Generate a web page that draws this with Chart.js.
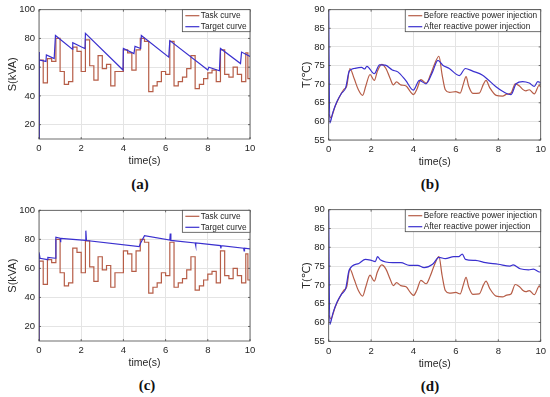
<!DOCTYPE html>
<html>
<head>
<meta charset="utf-8">
<script src="https://cdn.jsdelivr.net/npm/chart.js@4.4.0/dist/chart.umd.min.js"></script>
<style>
  body { margin: 0; background: #fff; width: 550px; height: 397px; position: relative; overflow: hidden; }
  canvas { position: absolute; }
  .cap { position: absolute; font: bold 15px "Liberation Serif", "Times New Roman", serif; color: #111; transform: translate(-50%, -50%); }
</style>
</head>
<body>
<canvas id="pa" width="275" height="175" style="left:0;top:0"></canvas>
<canvas id="pb" width="275" height="175" style="left:275px;top:0"></canvas>
<canvas id="pc" width="275" height="175" style="left:0;top:197px"></canvas>
<canvas id="pd" width="275" height="175" style="left:275px;top:197px"></canvas>
<div class="cap" style="left:140px;top:184px">(a)</div>
<div class="cap" style="left:430px;top:184px">(b)</div>
<div class="cap" style="left:147px;top:385px">(c)</div>
<div class="cap" style="left:430px;top:386px">(d)</div>
<script>
// tick labels
const timeTicks = [0, 2, 4, 6, 8, 10];
const sTicks = [20, 40, 60, 80, 100];
const tempTicks = [55, 60, 65, 70, 75, 80, 85, 90];

// task curve (same in a and c), step levels
const taskTime = [0, 0, 0.2, 0.4, 0.6, 0.8, 1.0, 1.2, 1.4, 1.6, 1.8, 2.0, 2.2, 2.4, 2.6, 2.8, 3.0, 3.2, 3.4, 3.6, 3.8,
  4.0, 4.2, 4.4, 4.6, 4.8, 5.0, 5.2, 5.4, 5.6, 5.8, 6.0, 6.2, 6.4, 6.6, 6.8, 7.0, 7.2, 7.4, 7.6, 7.8,
  8.0, 8.2, 8.4, 8.6, 8.8, 9.0, 9.2, 9.4, 9.6, 9.8, 9.9, 10];
const taskS = [10, 65, 49, 66, 64, 80, 57, 48, 50, 74, 71, 57, 79, 61, 51, 68, 59, 62, 47, 57, 57,
  72, 70, 58, 72, 80, 78, 43, 47, 50, 57, 55, 78, 47, 50, 53, 59, 68, 45, 48, 52,
  56, 58, 50, 72, 55, 53, 60, 55, 50, 70, 52, 52];

// target curve (a)
const targetATime = [0, 0, 0.03, 0.33, 0.35, 0.72, 0.78, 1.58, 1.6, 2.02, 2.18, 2.2, 3.98, 4.0, 4.5, 4.55, 4.82, 4.85,
  6.15, 6.2, 8.0, 8.05, 8.55, 8.6, 9.55, 9.6, 10];
const targetAS = [10, 70.5, 65, 64, 68.5, 66, 82, 72.5, 77, 74, 73, 83.5, 58, 73, 69.5, 74.5, 73, 82,
  67, 78.5, 58, 60, 57.5, 73, 62.5, 70.5, 67.5];

// target curve (c)
const targetCTime = [0, 0, 0.05, 0.4, 0.42, 0.78, 0.8, 1.0, 1.02, 1.04, 2.2, 2.22, 2.25, 4.75, 4.8, 5.0,
  6.2, 6.22, 6.25, 7.4, 7.42, 7.44, 8.6, 8.62, 8.64, 9.7, 9.72, 9.74, 10];
const targetCS = [10, 71, 67, 66, 67.5, 67, 81.5, 80.8, 78, 80.7, 79.3, 86, 79.2, 75, 77, 82.5,
  79.5, 84, 79.3, 77.5, 75.5, 77.5, 75.7, 73.7, 75.7, 73.9, 72, 73.9, 73.5];

// temperature before injection (same in b and d)
const beforeTime = [0, 0.1, 0.3, 0.5, 0.7, 0.85, 1.0, 1.2, 1.4, 1.6, 1.75, 1.95, 2.15, 2.3, 2.5, 2.7, 2.9, 3.05,
  3.2, 3.4, 3.65, 3.85, 4.0, 4.15, 4.35, 4.6, 4.8, 5.0, 5.2, 5.35, 5.5, 5.7, 6.0, 6.2, 6.35, 6.48,
  6.6, 6.8, 7.1, 7.3, 7.42, 7.6, 7.9, 8.2, 8.4, 8.6, 8.8, 9.0, 9.15, 9.3, 9.46, 9.7, 9.93, 10];
const beforeTemp = [62, 61, 64, 66.5, 68.5, 69.5, 74.2, 71.5, 68.5, 67, 69.5, 72.6, 71, 73.5, 75.3, 74.2, 71.5, 69.8,
  70.6, 69.8, 69.5, 68, 67.2, 68.5, 71.2, 70.3, 72.5, 75.5, 77.5, 72.5, 68.5, 67.8, 68, 67.6, 70, 72,
  69.5, 67.5, 67.6, 70, 71, 69, 67, 66.8, 67.3, 67.6, 70.1, 69.5, 68.6, 68.2, 68.5, 67.4, 69.7, 69.2];

// temperature after injection (b)
const afterBTime = [0, 0.05, 0.2, 0.4, 0.6, 0.8, 0.97, 1.2, 1.55, 1.7, 1.8, 2.15, 2.4, 2.67, 3.0, 3.26, 3.63, 3.99,
  4.28, 4.59, 4.9, 5.15, 5.38, 5.69, 6.16, 6.45, 6.79, 7.26, 7.89, 8.2, 8.6, 8.84, 9.15, 9.46, 9.7, 9.86, 10];
const afterBTemp = [90, 59.5, 62.5, 65.5, 67.5, 69, 73.5, 74.2, 74.5, 74.1, 74.8, 72.8, 75.2, 75.1, 73.8, 73.3, 71, 68.4,
  71, 70.1, 73.3, 76.4, 75.1, 74.2, 72.3, 74.2, 73.5, 72.4, 69.3, 68.1, 67.2, 70.1, 70.7, 70.3, 69.4, 70.7, 70.4];

// temperature after injection (d)
const afterDTime = [0, 0.05, 0.2, 0.4, 0.6, 0.8, 0.97, 1.42, 1.73, 1.97, 2.2, 2.3, 2.45, 3.02, 3.41, 3.8, 4.2, 4.5,
  4.9, 5.2, 5.5, 5.9, 6.13, 6.3, 6.45, 6.93, 7.4, 8.0, 8.55, 8.7, 9.03, 9.43, 9.66, 9.9, 10];
const afterDTemp = [90, 59.5, 62.5, 65.5, 67.5, 69, 74, 75.7, 76.8, 76.6, 76.2, 77.5, 76.6, 75.9, 75.9, 75.2, 75.2, 74.6,
  75.5, 77.3, 77, 77.5, 77.5, 78.2, 76.8, 76.5, 75.9, 75.5, 75, 75.3, 74.3, 74, 74.2, 73.5, 73.4];

const BROWN = '#b65d47';
const BLUE = '#3a30cf';
const FONT = '"Liberation Sans", "DejaVu Sans", Arial, sans-serif';

function xy(ts, vs) {
  return ts.map((t, i) => ({ x: t, y: vs[i] }));
}

// MATLAB-like axes box with inward tick marks
const frame = {
  id: 'frame',
  afterDatasetsDraw(chart) {
    const { ctx, chartArea: a, scales } = chart;
    ctx.save();
    ctx.strokeStyle = '#4a4a4a';
    ctx.lineWidth = 0.8;
    ctx.strokeRect(a.left, a.top, a.right - a.left, a.bottom - a.top);
    ctx.beginPath();
    scales.x.ticks.forEach(t => {
      const px = scales.x.getPixelForValue(t.value);
      ctx.moveTo(px, a.bottom); ctx.lineTo(px, a.bottom - 2);
      ctx.moveTo(px, a.top); ctx.lineTo(px, a.top + 2);
    });
    scales.y.ticks.forEach(t => {
      const py = scales.y.getPixelForValue(t.value);
      ctx.moveTo(a.left, py); ctx.lineTo(a.left + 2, py);
      ctx.moveTo(a.right, py); ctx.lineTo(a.right - 2, py);
    });
    ctx.stroke();
    ctx.restore();
  }
};

// legend box inside the plot, top right
const boxLegend = {
  id: 'boxLegend',
  afterDraw(chart) {
    const { ctx, chartArea: a } = chart;
    const ds = chart.data.datasets;
    ctx.save();
    ctx.font = '8.3px ' + FONT;
    const tw = Math.max(...ds.map(d => ctx.measureText(d.label).width));
    const w = tw + 22, h = 22;
    const x = a.right - w, y = a.top;
    ctx.fillStyle = '#fff';
    ctx.fillRect(x, y, w, h);
    ctx.strokeStyle = '#4a4a4a';
    ctx.lineWidth = 0.8;
    ctx.strokeRect(x, y, w, h);
    ds.forEach((d, i) => {
      const cy = y + 6 + i * 11;
      ctx.strokeStyle = d.borderColor;
      ctx.lineWidth = 1.2;
      ctx.beginPath();
      ctx.moveTo(x + 3, cy); ctx.lineTo(x + 17, cy);
      ctx.stroke();
      ctx.fillStyle = '#262626';
      ctx.textBaseline = 'middle';
      ctx.fillText(d.label, x + 18.5, cy);
    });
    ctx.restore();
  }
};

function makePanel(id, box, yCfg, datasets) {
  const W = 275, H = 175;
  const titleFont = { family: FONT, size: 10.5 };
  new Chart(document.getElementById(id), {
    type: 'line',
    data: { datasets },
    options: {
      responsive: false,
      animation: false,
      parsing: false,
      layout: { padding: { top: box.t, right: W - box.r, left: 0, bottom: 0 } },
      elements: { point: { radius: 0 }, line: { borderWidth: 1.2 } },
      plugins: { legend: { display: false }, tooltip: { enabled: false } },
      scales: {
        x: {
          type: 'linear', min: 0, max: 10,
          afterBuildTicks: s => { s.ticks = timeTicks.map(v => ({ value: v })); },
          afterFit: s => { s.height = H - box.b; },
          grid: { color: '#e4e4e4', drawTicks: false },
          border: { display: false },
          ticks: { color: '#262626', font: { family: FONT, size: 9.5 }, padding: 4, maxRotation: 0 },
          title: { display: true, text: 'time(s)', color: '#262626', font: titleFont,
                   padding: { top: 0, bottom: H - box.b - 22.5 - 6.3 } }
        },
        y: {
          type: 'linear', min: yCfg.min, max: yCfg.max,
          afterBuildTicks: s => { s.ticks = yCfg.ticks.map(v => ({ value: v })); },
          afterFit: s => { s.width = box.l; },
          grid: { color: '#e4e4e4', drawTicks: false },
          border: { display: false },
          ticks: { color: '#262626', font: { family: FONT, size: 9.5 }, padding: 4 },
          title: { display: true, text: yCfg.title, color: '#262626', font: { family: FONT, size: 11 },
                   padding: { top: yCfg.titleX - 6.6, bottom: 0 } }
        }
      }
    },
    plugins: [frame, boxLegend]
  });
}

const sAxis = { min: 10, max: 100, ticks: sTicks, title: 'S(kVA)', titleX: 13 };
const tAxis = { min: 55, max: 90, ticks: tempTicks, title: 'T(\u2103)', titleX: 31.5 };

makePanel('pa', { l: 39, t: 9, r: 250, b: 139 }, sAxis, [
  { label: 'Task curve', data: xy(taskTime, taskS), borderColor: BROWN, stepped: true, order: 1 },
  { label: 'Target curve', data: xy(targetATime, targetAS), borderColor: BLUE, order: 0 }
]);
makePanel('pb', { l: 53.7, t: 9, r: 265.7, b: 140 }, tAxis, [
  { label: 'Before reactive power injection', data: xy(beforeTime, beforeTemp), borderColor: BROWN, cubicInterpolationMode: 'monotone', order: 1 },
  { label: 'After reactive power injection', data: xy(afterBTime, afterBTemp), borderColor: BLUE, cubicInterpolationMode: 'monotone', order: 0 }
]);
makePanel('pc', { l: 39, t: 13.3, r: 250, b: 144 }, sAxis, [
  { label: 'Task curve', data: xy(taskTime, taskS), borderColor: BROWN, stepped: true, order: 1 },
  { label: 'Target curve', data: xy(targetCTime, targetCS), borderColor: BLUE, order: 0 }
]);
makePanel('pd', { l: 53.7, t: 12.7, r: 265.7, b: 144.3 }, tAxis, [
  { label: 'Before reactive power injection', data: xy(beforeTime, beforeTemp), borderColor: BROWN, cubicInterpolationMode: 'monotone', order: 1 },
  { label: 'After reactive power injection', data: xy(afterDTime, afterDTemp), borderColor: BLUE, cubicInterpolationMode: 'monotone', order: 0 }
]);
</script>
</body>
</html>
